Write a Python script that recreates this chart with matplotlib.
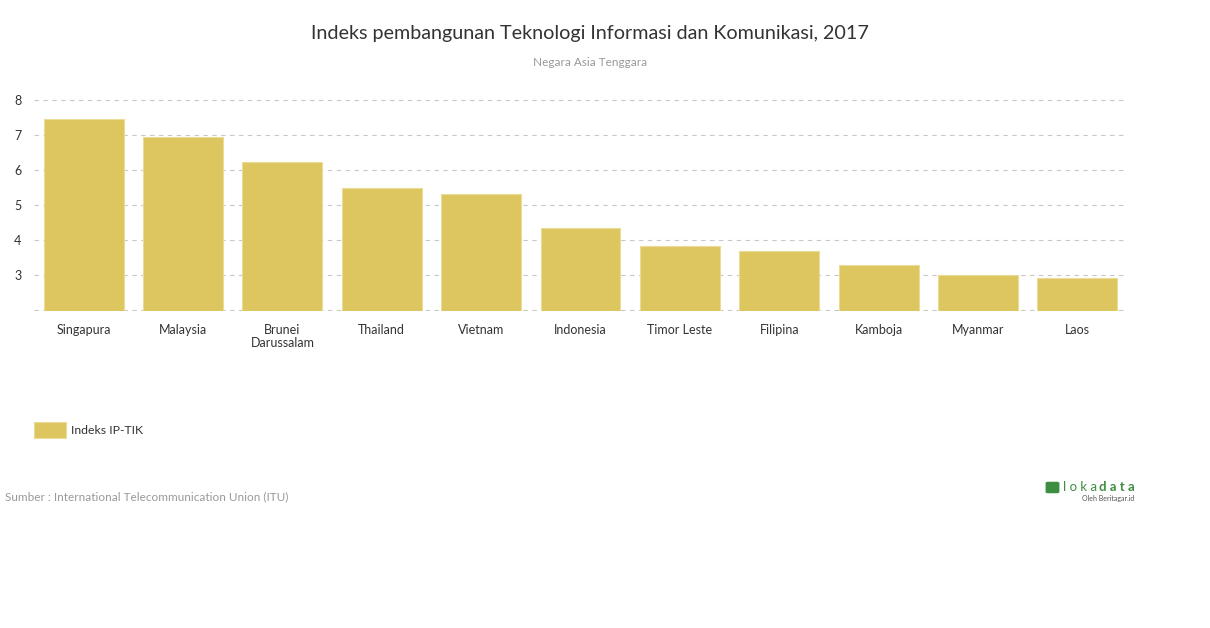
import matplotlib.pyplot as plt
from matplotlib.patches import FancyBboxPatch

plt.rcParams['font.family'] = ['Lato', 'DejaVu Sans']

# data
negara = ['Singapura', 'Malaysia', 'Brunei\nDarussalam', 'Thailand', 'Vietnam',
          'Indonesia', 'Timor Leste', 'Filipina', 'Kamboja', 'Myanmar', 'Laos']
indeks = [7.46, 6.95, 6.23, 5.49, 5.31, 4.34, 3.83, 3.69, 3.29, 3.00, 2.91]
y_ticks = [3, 4, 5, 6, 7, 8]

bar_color = '#DDC65F'

fig = plt.figure(figsize=(12.1, 6.28), dpi=100)
ax = fig.add_axes([34 / 1210, 1 - 311 / 628, (1127 - 34) / 1210, 212 / 628])

x = list(range(len(negara)))
ax.bar(x, indeks, bottom=0, width=0.805, color=bar_color, edgecolor='#EADB96',
       linewidth=0.8, zorder=3)

ax.set_xlim(-0.5, len(negara) - 0.5)
ax.set_ylim(1.97, 8.03)
ax.set_yticks([2] + y_ticks)
ax.set_yticklabels([''] + [str(t) for t in y_ticks], fontsize=9, color='#333333')
ax.set_xticks(x)
ax.set_xticklabels(negara, fontsize=9, color='#333333', linespacing=1.1, va='top')
ax.tick_params(axis='x', length=0, pad=9)
ax.tick_params(axis='y', length=0, pad=9)

ax.grid(axis='y', color='#C8C8C8', linestyle=(0, (4, 4)), linewidth=0.8, zorder=4)
for s in ax.spines.values():
    s.set_visible(False)

# title and subtitle
fig.text(590 / 1210, 1 - 33 / 628, 'Indeks pembangunan Teknologi Informasi dan Komunikasi, 2017',
         ha='center', va='center', fontsize=14.2, color='#333333')
fig.text(590 / 1210, 1 - 62 / 628, 'Negara Asia Tenggara',
         ha='center', va='center', fontsize=8.5, color='#999999')

# legend
fig.patches.append(plt.Rectangle((34 / 1210, 1 - 438 / 628), 32 / 1210, 16 / 628,
                                 transform=fig.transFigure, facecolor=bar_color,
                                 edgecolor='#EADB96', linewidth=0.8))
fig.text(71 / 1210, 1 - 430 / 628, 'Indeks IP-TIK', ha='left', va='center',
         fontsize=8.8, color='#333333')

# source
fig.text(5 / 1210, 1 - 497 / 628, 'Sumber : International Telecommunication Union (ITU)',
         ha='left', va='center', fontsize=8.5, color='#999999')

# logo
fig.patches.append(FancyBboxPatch((1048 / 1210, 1 - 492 / 628), 9 / 1210, 9 / 628,
                                  boxstyle='round,pad=0.002', transform=fig.transFigure,
                                  facecolor='#3E8E41', edgecolor='none'))
fig.text(1063 / 1210, 1 - 487 / 628, 'l o k a', ha='left', va='center',
         fontsize=9.5, color='#3E8E41')
fig.text(1135 / 1210, 1 - 487 / 628, 'd a t a', ha='right', va='center',
         fontsize=9.5, color='#3E8E41', fontweight='bold')
fig.text(1134 / 1210, 1 - 498 / 628, 'Oleh Beritagar.id', ha='right', va='center',
         fontsize=5, color='#555555')

fig.savefig('out.png', dpi=100)
